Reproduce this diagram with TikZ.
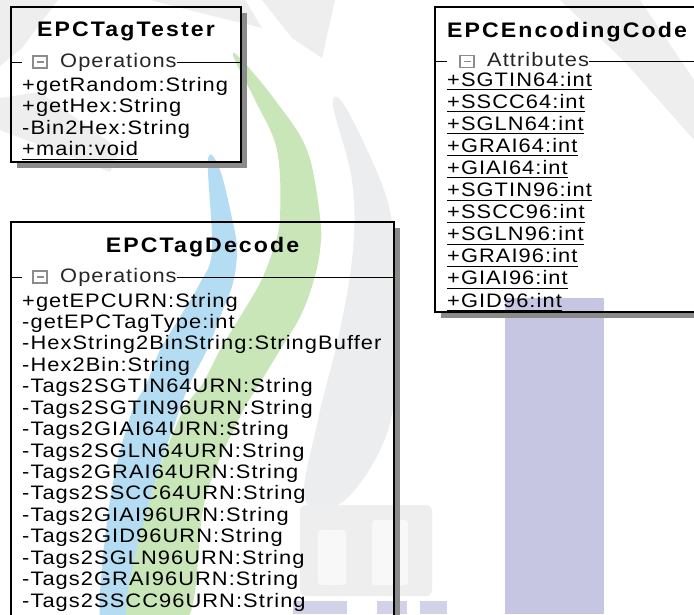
\documentclass[tikz,border=0pt]{standalone}
\usepackage{fontspec}
\setmainfont{Liberation Sans}
\newfontfamily\memberfont[FakeStretch=1.12, LetterSpace=5.5]{Liberation Sans}
\newfontfamily\headfont[FakeStretch=1.1, LetterSpace=10]{Liberation Sans}
\usetikzlibrary{calc}

\definecolor{wmgreen}{HTML}{C9E6B9}
\definecolor{wmblue}{HTML}{B4DCF2}
\definecolor{wmgray}{HTML}{ECEDEF}
\definecolor{wmfeather}{HTML}{EEEEEE}
\definecolor{wmlav}{HTML}{C6C6E2}
\definecolor{shadowgray}{HTML}{8A8A8A}
\definecolor{icongray}{HTML}{8C8C8C}

\tikzset{
  classbox/.style={draw=black, line width=1.3pt},
  dropshadow/.style={fill=shadowgray},
  compline/.style={draw=black, line width=0.9pt},
  classtitle/.style={font=\headfont\bfseries\fontsize{21}{24}\selectfont, inner sep=0pt, anchor=base},
  member/.style={font=\memberfont\fontsize{19.5}{22}\selectfont, inner sep=0pt, anchor=base west},
  comphead/.style={member, text=black!85},
  uline/.style={draw=black, line width=0.9pt},
  minusicon/.style={draw=icongray, line width=1.1pt, fill=white},
  minusbar/.style={draw=icongray, line width=1.1pt},
  softgray/.style={fill=wmfeather},
}

\begin{document}
\begin{tikzpicture}[x=1pt,y=-1pt]
\useasboundingbox (0,0) rectangle (694,614);
\clip (0,0) rectangle (694,614);
\fill[white] (0,0) rectangle (694,614);

% ---- background emblem ----
% faint gray feathers
\fill[softgray] (0,0) -- (58,0) -- (22,48) -- (0,66) -- cycle;
\fill[softgray] (150,0) -- (245,0) -- (262,28) -- (205,14) -- cycle;
\fill[softgray] (262,0) -- (335,0) -- (322,58) -- (292,38) -- cycle;
\fill[softgray] (560,0) -- (640,0) -- (694,80) -- (694,140) -- (625,62) -- cycle;
\fill[softgray] (0,98) -- (40,92) -- (120,150) -- (110,172) -- (0,130) -- cycle;
% gray arc
\fill[wmgray] plot[smooth cycle, tension=0.6] coordinates {
  (333,105) (352,180) (353,250) (340,330) (318,420) (305,500)
  (345,500) (388,430) (398,330) (395,250) (384,190) (346,108)};
% building
\fill[wmfeather, rounded corners=6pt] (300,505) rectangle (432,596);
\fill[white, opacity=0.6, rounded corners=3pt] (318,530) rectangle (346,585);
\fill[white, opacity=0.6, rounded corners=3pt] (372,520) rectangle (408,585);
% blue arc
\fill[wmblue] plot[smooth cycle, tension=0.6] coordinates {
  (208,160) (212,250) (200,283) (180,317) (160,350) (147,383) (130,417) (110,500) (100,620)
  (125,620) (150,500) (177,417) (190,383) (207,350) (220,317) (233,283) (237,250) (233,223) (220,170)};
% green arc
\fill[wmgreen] plot[smooth cycle, tension=0.6] coordinates {
  (234,58) (255,100) (277,150) (280,217) (273,250) (260,283) (240,317) (220,350) (203,383) (180,417) (150,500) (127,620)
  (187,620) (205,500) (240,417) (260,383) (280,350) (300,317) (313,283) (320,250) (320,217) (307,150) (275,100) (240,58)};
% lavender bar and lettering
\fill[wmlav] (505,298) rectangle (604,614);
\fill[wmlav!80] (293,601) rectangle (347,614);
\fill[wmlav!80] (377,601) rectangle (407,614);
\fill[wmlav!80] (420,601) rectangle (447,614);

% ---- EPCTagTester ----
\fill[dropshadow] (17,162) rectangle (247,168);
\fill[dropshadow] (241,13) rectangle (247,168);
\draw[classbox] (11,7) rectangle (241,162);
\node[classtitle] (testerTitle) at (126,36) {EPCTagTester};
\draw[compline] (11,62) -- (22,62);
\draw[minusicon] (33,56) rectangle (47,68);
\draw[minusbar] (36.5,62) -- (43.5,62);
\node[comphead] (testerOps) at (60,67.5) {Operations};
\draw[compline] (testerOps.east |- 0,62) -- (241,62);
\foreach \m [count=\i from 0] in {+getRandom:String, +getHex:String, -Bin2Hex:String, +main:void}
  \node[member] (tester-\i) at (22, 91+21.5*\i) {\m};
\draw[uline] ([yshift=-3.5pt]tester-3.base west) -- ([yshift=-3.5pt]tester-3.base east);

% ---- EPCEncodingCode ----
\fill[dropshadow] (441,312) rectangle (700,318);
\draw[classbox] (435,7) rectangle (700,312);
\node[classtitle] (encTitle) at (567,37) {EPCEncodingCode};
\draw[compline] (435,61.5) -- (447,61.5);
\draw[minusicon] (460,55.5) rectangle (474,67.5);
\draw[minusbar] (463.5,61.5) -- (470.5,61.5);
\node[comphead] (encAttr) at (487,66.5) {Attributes};
\draw[compline] (encAttr.east |- 0,61.5) -- (700,61.5);
\foreach \m [count=\i from 0] in {+SGTIN64:int, +SSCC64:int, +SGLN64:int, +GRAI64:int, +GIAI64:int,
    +SGTIN96:int, +SSCC96:int, +SGLN96:int, +GRAI96:int, +GIAI96:int, +GID96:int} {
  \node[member] (enc-\i) at (447, 86+22.1*\i) {\m};
  \draw[uline] ([yshift=-3.5pt]enc-\i.base west) -- ([yshift=-3.5pt]enc-\i.base east);
}

% ---- EPCTagDecode ----
\fill[dropshadow] (394,228) rectangle (400,640);
\draw[classbox] (11,222) rectangle (394,640);
\node[classtitle] (decTitle) at (202.5,252) {EPCTagDecode};
\draw[compline] (11,277) -- (22,277);
\draw[minusicon] (33,271) rectangle (47,283);
\draw[minusbar] (36.5,277) -- (43.5,277);
\node[comphead] (decOps) at (60,282.5) {Operations};
\draw[compline] (decOps.east |- 0,277) -- (394,277);
\foreach \m [count=\i from 0] in {+getEPCURN:String, -getEPCTagType:int, -HexString2BinString:StringBuffer,
    -Hex2Bin:String, -Tags2SGTIN64URN:String, -Tags2SGTIN96URN:String, -Tags2GIAI64URN:String,
    -Tags2SGLN64URN:String, -Tags2GRAI64URN:String, -Tags2SSCC64URN:String, -Tags2GIAI96URN:String,
    -Tags2GID96URN:String, -Tags2SGLN96URN:String, -Tags2GRAI96URN:String, -Tags2SSCC96URN:String}
  \node[member] (dec-\i) at (22, 307+21.43*\i) {\m};
\end{tikzpicture}
\end{document}
